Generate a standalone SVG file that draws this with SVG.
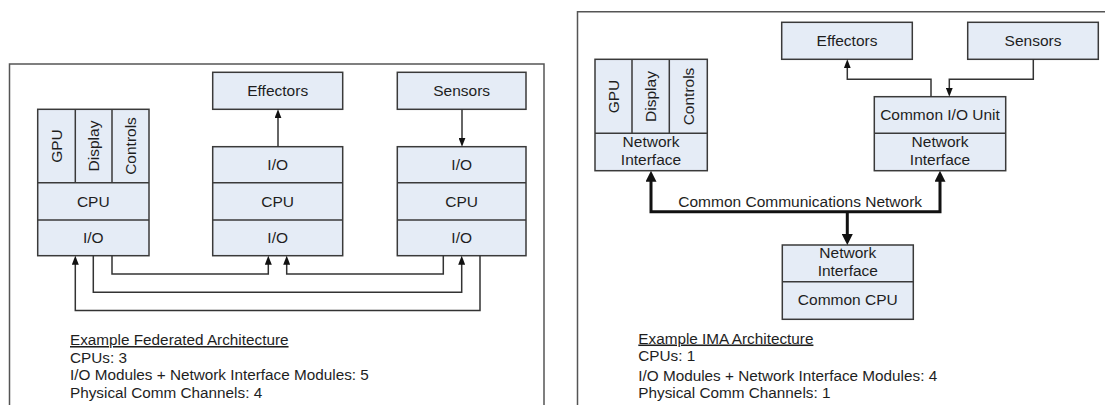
<svg xmlns="http://www.w3.org/2000/svg" width="1105" height="405" viewBox="0 0 1105 405">
<style>
.frame{fill:none;stroke:#555;stroke-width:1.5}
.box{fill:#e5ecf6;stroke:#3a3a3a;stroke-width:1.5}
.div{stroke:#3a3a3a;stroke-width:1.5}
text{font-family:"Liberation Sans",Arial,sans-serif;font-size:15.5px;fill:#1e1e1e}
.cap text{font-size:15.3px}
.c{text-anchor:middle}
.v{text-anchor:middle;dominant-baseline:central}
.thin{fill:none;stroke:#333;stroke-width:1.5}
.thick{fill:none;stroke:#111;stroke-width:3}
</style>
<defs>
<marker id="a" viewBox="0 0 9 7" markerUnits="userSpaceOnUse" markerWidth="9" markerHeight="7" refX="4" refY="3.5" orient="auto-start-reverse"><path d="M0,0 L9,3.5 L0,7 z" fill="#111"/></marker>
<marker id="b" viewBox="0 0 11 11" markerUnits="userSpaceOnUse" markerWidth="11" markerHeight="11" refX="5" refY="5.5" orient="auto-start-reverse"><path d="M0,0 L11,5.5 L0,11 z" fill="#111"/></marker>
</defs>

<path class="frame" d="M9.5,410 V64 H544 V410"/>
<path class="frame" d="M577.5,410 V11.7 H1110"/>

<!-- Federated -->
<g id="fed-effectors"><rect class="box" x="212.7" y="72.3" width="130" height="37"/><text class="c" x="277.7" y="95.5">Effectors</text></g>
<g id="fed-sensors"><rect class="box" x="397.3" y="72.3" width="128.7" height="37"/><text class="c" x="461.7" y="95.5">Sensors</text></g>
<g id="fed-left">
<rect class="box" x="37.7" y="109.3" width="111.3" height="146.4"/>
<line class="div" x1="37.7" y1="182.7" x2="149" y2="182.7"/>
<line class="div" x1="37.7" y1="220" x2="149" y2="220"/>
<line class="div" x1="75.3" y1="109.3" x2="75.3" y2="182.7"/>
<line class="div" x1="112" y1="109.3" x2="112" y2="182.7"/>
<text class="v" transform="translate(56.5,146) rotate(-90)">GPU</text>
<text class="v" transform="translate(93.7,146) rotate(-90)">Display</text>
<text class="v" transform="translate(130.5,146) rotate(-90)">Controls</text>
<text class="c" x="93.3" y="206.5">CPU</text>
<text class="c" x="93.3" y="242.8">I/O</text>
</g>
<g id="fed-mid">
<rect class="box" x="212.7" y="146.7" width="130" height="109"/>
<line class="div" x1="212.7" y1="182.7" x2="342.7" y2="182.7"/>
<line class="div" x1="212.7" y1="220" x2="342.7" y2="220"/>
<text class="c" x="277.7" y="170">I/O</text>
<text class="c" x="277.7" y="206.5">CPU</text>
<text class="c" x="277.7" y="242.8">I/O</text>
</g>
<g id="fed-right">
<rect class="box" x="397.3" y="146.7" width="128.7" height="109"/>
<line class="div" x1="397.3" y1="182.7" x2="526" y2="182.7"/>
<line class="div" x1="397.3" y1="220" x2="526" y2="220"/>
<text class="c" x="461.7" y="170">I/O</text>
<text class="c" x="461.7" y="206.5">CPU</text>
<text class="c" x="461.7" y="242.8">I/O</text>
</g>
<g id="fed-caption" class="cap">
<text x="70" y="345" text-decoration="underline">Example Federated Architecture</text>
<text x="70" y="362.5">CPUs: 3</text>
<text x="70" y="380">I/O Modules + Network Interface Modules: 5</text>
<text x="70" y="397.5">Physical Comm Channels: 4</text>
</g>

<!-- IMA -->
<g id="ima-effectors"><rect class="box" x="781.7" y="22.3" width="130.6" height="37"/><text class="c" x="847" y="45.5">Effectors</text></g>
<g id="ima-sensors"><rect class="box" x="967.7" y="22.3" width="130.6" height="37"/><text class="c" x="1033" y="45.5">Sensors</text></g>
<g id="ima-left">
<rect class="box" x="595" y="59.3" width="112.3" height="111.4"/>
<line class="div" x1="595" y1="133.3" x2="707.3" y2="133.3"/>
<line class="div" x1="632" y1="59.3" x2="632" y2="133.3"/>
<line class="div" x1="669.3" y1="59.3" x2="669.3" y2="133.3"/>
<text class="v" transform="translate(613.5,96.5) rotate(-90)">GPU</text>
<text class="v" transform="translate(650.7,96.5) rotate(-90)">Display</text>
<text class="v" transform="translate(688.3,96.5) rotate(-90)">Controls</text>
<text class="c" x="651" y="146.7">Network</text>
<text class="c" x="651" y="165">Interface</text>
</g>
<g id="ima-io">
<rect class="box" x="874.3" y="96.7" width="131.4" height="74"/>
<line class="div" x1="874.3" y1="133.3" x2="1005.7" y2="133.3"/>
<text class="c" x="940" y="120">Common I/O Unit</text>
<text class="c" x="940" y="146.7">Network</text>
<text class="c" x="940" y="165">Interface</text>
</g>
<g id="ima-cpu">
<rect class="box" x="782.3" y="245" width="131" height="74.3"/>
<line class="div" x1="782.3" y1="281.7" x2="913.3" y2="281.7"/>
<text class="c" x="847.8" y="258">Network</text>
<text class="c" x="847.8" y="276.3">Interface</text>
<text class="c" x="847.8" y="304.5">Common CPU</text>
</g>
<text id="bus-label" x="678.3" y="207.3">Common Communications Network</text>
<g id="ima-caption" class="cap">
<text x="638.3" y="343.5" text-decoration="underline">Example IMA Architecture</text>
<text x="638.3" y="361">CPUs: 1</text>
<text x="638.3" y="380.5">I/O Modules + Network Interface Modules: 4</text>
<text x="638.3" y="398.3">Physical Comm Channels: 1</text>
</g>

<g id="connectors">
<path class="thin" d="M278,146.7 V114.3" marker-end="url(#a)"/>
<path class="thin" d="M462,109.3 V141.7" marker-end="url(#a)"/>
<path class="thin" d="M112,255.7 V274 H268.3 V260.7" marker-end="url(#a)"/>
<path class="thin" d="M443.3,255.7 V274 H286.7 V260.7" marker-end="url(#a)"/>
<path class="thin" d="M93.3,255.7 V292.3 H461.7 V260.7" marker-end="url(#a)"/>
<path class="thin" d="M480,255.7 V310.5 H75.3 V260.7" marker-end="url(#a)"/>
<path class="thin" d="M931,96.7 V79.3 H847.3 V64.3" marker-end="url(#a)"/>
<path class="thin" d="M1033.3,59.3 V79.3 H949.3 V91.7" marker-end="url(#a)"/>
<path class="thick" d="M651,176.7 V211.7 H940 V176.7" marker-start="url(#b)" marker-end="url(#b)"/>
<path class="thick" d="M847.3,211.7 V239" marker-end="url(#b)"/>
</g>
</svg>
